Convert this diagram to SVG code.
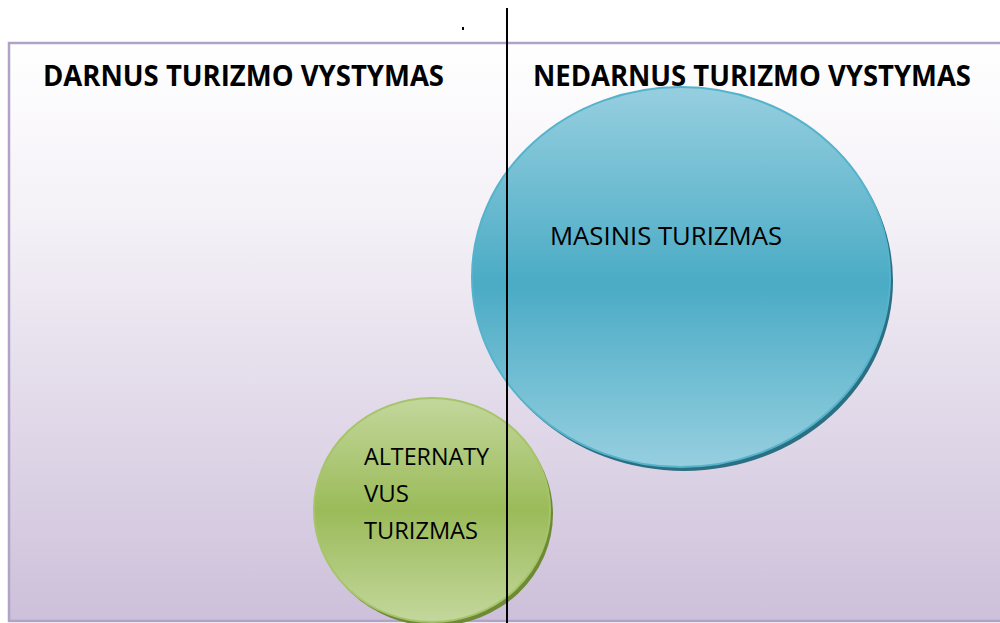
<svg xmlns="http://www.w3.org/2000/svg" width="1000" height="623" viewBox="0 0 1000 623">
<defs>
<linearGradient id="bg" x1="0" y1="0" x2="0" y2="1">
<stop offset="0" stop-color="#ffffff"/>
<stop offset="0.3" stop-color="#f4f1f7"/>
<stop offset="1" stop-color="#cdc0da"/>
</linearGradient>
<linearGradient id="blue" x1="0" y1="0" x2="0" y2="1">
<stop offset="0" stop-color="#96cfdf"/>
<stop offset="0.52" stop-color="#4aabc5"/>
<stop offset="1" stop-color="#96cfdf"/>
</linearGradient>
<linearGradient id="green" x1="0" y1="0" x2="0" y2="1">
<stop offset="0" stop-color="#c3d79c"/>
<stop offset="0.5" stop-color="#9bbb59"/>
<stop offset="1" stop-color="#c3d79c"/>
</linearGradient>
<style>
.h{font-family:"Open Sans","Liberation Sans",Arial,sans-serif;font-weight:bold;font-size:28.5px;fill:#000}
.t{font-family:"Open Sans","Liberation Sans",Arial,sans-serif;font-size:26px;fill:#000}
.g{font-family:"Open Sans","Liberation Sans",Arial,sans-serif;font-size:24px;fill:#000}
</style>
</defs>
<rect x="0" y="0" width="1000" height="623" fill="#ffffff"/>
<g id="frame">
<rect x="9" y="43" width="1000" height="578" fill="url(#bg)" stroke="#b3a2c7" stroke-width="2.5"/>
</g>
<g id="blue-node">
<ellipse cx="684" cy="281" rx="209" ry="190" fill="#2b6f82"/>
<ellipse cx="681" cy="277" rx="209" ry="190" fill="url(#blue)" stroke="#55b3cc" stroke-width="2"/>
<text class="t" x="550" y="245" textLength="232" lengthAdjust="spacingAndGlyphs">MASINIS TURIZMAS</text>
</g>
<g id="green-node">
<ellipse cx="435" cy="514" rx="118" ry="112" fill="#6e8a35"/>
<ellipse cx="432" cy="510" rx="118" ry="112" fill="url(#green)" stroke="#a6c46a" stroke-width="2"/>
<text class="g" x="364" y="465" textLength="125" lengthAdjust="spacingAndGlyphs">ALTERNATY</text>
<text class="g" x="364" y="502" textLength="45" lengthAdjust="spacingAndGlyphs">VUS</text>
<text class="g" x="364" y="539" textLength="114" lengthAdjust="spacingAndGlyphs">TURIZMAS</text>
</g>
<g id="labels">
<text class="h" x="43" y="86" textLength="401" lengthAdjust="spacingAndGlyphs">DARNUS TURIZMO VYSTYMAS</text>
<text class="h" x="533" y="86" textLength="438" lengthAdjust="spacingAndGlyphs">NEDARNUS TURIZMO VYSTYMAS</text>
</g>
<g id="connectors">
<line x1="507" y1="8" x2="507" y2="623" stroke="#000" stroke-width="2"/>
</g>
<rect x="462" y="27" width="2" height="3" fill="#000"/>
</svg>
